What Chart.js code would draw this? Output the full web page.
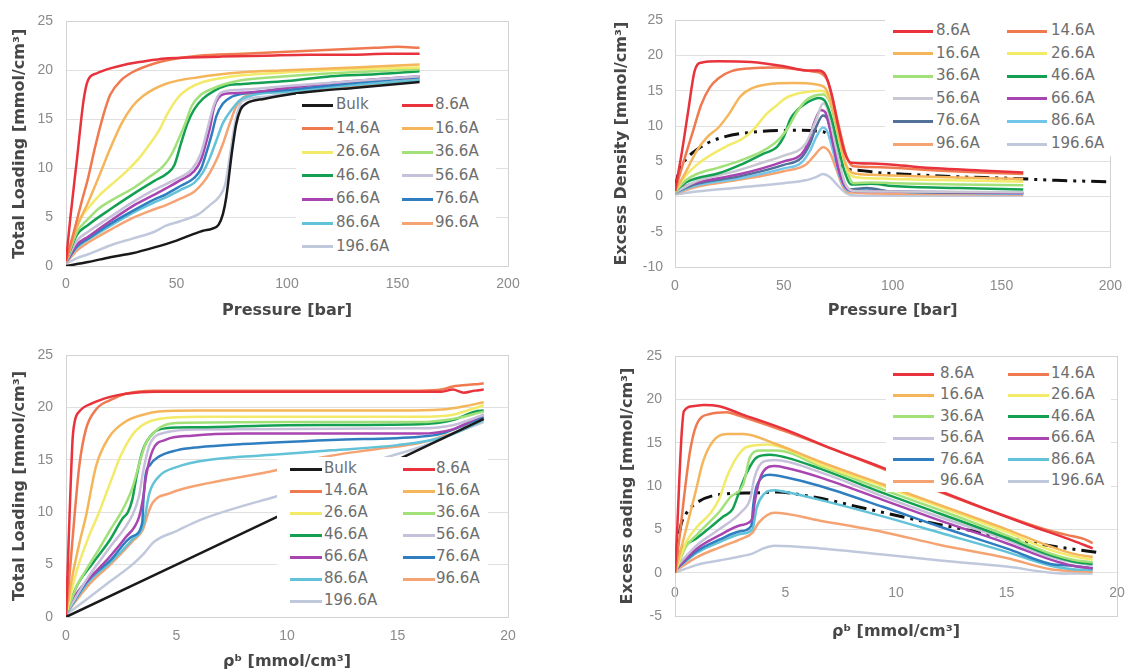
<!DOCTYPE html>
<html>
<head>
<meta charset="utf-8">
<script src="https://cdn.jsdelivr.net/npm/chart.js@4.4.1/dist/chart.umd.min.js"></script>
<style>
  body { margin: 0; background: #fff; width: 1133px; height: 672px; overflow: hidden; position: relative; }
  canvas { position: absolute; }
  .legbox { position: absolute; background: #fff; }
  .item { position: absolute; height: 20px; line-height: 20px; font: 15px "DejaVu Sans", sans-serif; color: #6e6e6e; white-space: nowrap; }
  .swatch { position: absolute; height: 3px; }
</style>
</head>
<body>
<canvas id="c1" width="530" height="330" style="left:0;top:0"></canvas>
<canvas id="c2" width="553" height="330" style="left:580px;top:0"></canvas>
<canvas id="c3" width="530" height="342" style="left:0;top:330px"></canvas>
<canvas id="c4" width="553" height="342" style="left:580px;top:330px"></canvas>
<script>
// series labels (Bulk only appears in the total loading panels)
const names = ["Bulk", "8.6A", "14.6A", "16.6A", "26.6A", "36.6A", "46.6A",
               "56.6A", "66.6A", "76.6A", "86.6A", "96.6A", "196.6A"];

// top left: total loading vs pressure [bar]
const loadP = [
  [[0,0],[10,0.4],[20,0.9],[30,1.3],[40,1.9],[50,2.6],[57,3.2],[62,3.6],[66,3.8],[69,4.2],[71,5.3],[72.5,7],[75,11.5],[77,14.5],[79,16],[81.5,16.6],[90,17.1],[100,17.5],[115,17.9],[130,18.2],[145,18.5],[160,18.8]],
  [[0,0.5],[2,5],[5,11],[8,17],[10,19],[14,19.7],[20,20.2],[27,20.6],[35,20.9],[45,21.2],[55,21.3],[70,21.4],[90,21.5],[110,21.6],[130,21.6],[145,21.7],[160,21.7]],
  [[0,0.5],[3,3],[7,6.5],[10,9],[13,12],[17,15.5],[20,17.5],[25,19],[30,19.8],[40,20.7],[50,21.2],[60,21.5],[80,21.7],[100,21.9],[120,22.1],[140,22.3],[150,22.4],[160,22.3]],
  [[0,0.5],[5,4],[10,6.5],[15,9.2],[20,12],[25,14.5],[30,16.3],[35,17.4],[45,18.6],[60,19.3],[80,19.8],[100,20],[130,20.3],[160,20.6]],
  [[0,0.5],[5,4.3],[10,5.9],[15,7.2],[22,8.6],[27,9.6],[33,11],[38,12.5],[42,13.8],[46,15.6],[51,17.3],[56,18.2],[62,18.8],[70,19.2],[80,19.5],[100,19.8],[130,20.1],[160,20.3]],
  [[0,0.5],[5,3.5],[10,4.8],[15,5.9],[22,6.9],[30,7.9],[37,9],[44,10.2],[48,11.5],[51,13],[54,14.6],[57,16.4],[61,17.5],[66,18.1],[72,18.6],[80,19],[100,19.4],[130,19.8],[160,20.1]],
  [[0,0.5],[5,3.2],[10,4.2],[20,5.8],[30,7.3],[40,8.7],[46,9.5],[49,10.3],[52,12.5],[55,14.6],[58,16],[62,17.1],[67,17.9],[72,18.4],[80,18.6],[100,18.9],[120,19.4],[140,19.6],[160,19.9]],
  [[0,0.4],[5,2.6],[10,3.5],[20,5],[30,6.5],[40,7.8],[50,8.9],[57,9.9],[61,11.5],[64,14],[67,16.5],[70,17.7],[78,18],[90,18.2],[100,18.4],[130,18.9],[160,19.4]],
  [[0,0.4],[5,2.2],[10,3],[20,4.6],[30,6.1],[40,7.3],[45,7.9],[52,8.8],[58,9.7],[61,10.8],[63,12.3],[65,14],[67,16.2],[69,17.2],[72,17.6],[80,17.7],[100,18.2],[130,18.9],[160,19.4]],
  [[0,0.4],[5,2],[10,2.8],[20,4.3],[30,5.6],[40,6.8],[45,7.3],[52,8.2],[58,9],[61,9.9],[63,11.2],[66,13.5],[68,15.3],[71,16.6],[75,17.3],[80,17.6],[100,18],[130,18.7],[160,19.3]],
  [[0,0.4],[5,1.9],[10,2.7],[20,4.1],[30,5.4],[40,6.5],[45,7],[52,7.8],[58,8.5],[62,9.6],[65,11],[68,12.8],[71,14.6],[75,16],[79,17],[85,17.5],[100,17.8],[130,18.5],[160,19]],
  [[0,0.3],[5,1.6],[10,2.4],[20,3.7],[30,4.9],[40,5.8],[45,6.2],[52,6.9],[58,7.6],[62,8.5],[65,9.5],[68,10.8],[71,12.5],[74,14.5],[77,16.3],[80,17.2],[85,17.6],[100,17.8],[130,18.4],[160,19.1]],
  [[0,0.2],[5,0.8],[10,1.2],[20,2.1],[30,2.8],[40,3.5],[45,4.1],[52,4.6],[60,5.3],[65,6.2],[69,7],[72,8.3],[74,11],[76,14],[78,16],[80,16.9],[90,17.3],[100,17.6],[130,18.3],[160,18.9]]
];

// top right: excess density vs pressure [bar] (no Bulk series)
const excessP = [
  null,
  [[0,0.8],[3,6],[6,12],[9,17.8],[12,19],[20,19.2],[35,19.1],[50,18.5],[60,17.9],[66,17.9],[69,17.3],[72,14.5],[75,10],[78,6.2],[81,4.8],[90,4.7],[100,4.5],[120,4],[140,3.7],[160,3.4]],
  [[0,0.8],[4,5],[8,9],[12,13],[16,15.5],[20,16.8],[26,17.8],[35,18.2],[46,18.3],[55,18.1],[62,17.8],[67,17.5],[70,16.5],[73,13],[76,9],[79,5.5],[82,4.3],[90,4.2],[100,4.1],[120,3.7],[140,3.4],[160,3.2]],
  [[0,0.8],[5,3.5],[10,6.5],[15,8.5],[20,9.8],[25,11.8],[30,14.2],[35,15.3],[42,15.9],[55,16.1],[65,15.9],[69,15.4],[72,13],[75,9],[78,5],[82,3.3],[90,3.1],[100,3],[130,2.7],[160,2.5]],
  [[0,0.8],[5,3],[10,4.5],[16,5.8],[24,7.2],[31,8.2],[36,9.5],[42,11.7],[47,13],[51,14],[56,14.6],[62,14.9],[67,15],[70,14.4],[73,12],[76,7.5],[79,4],[82,2.8],[90,2.6],[100,2.5],[130,2.3],[160,2.1]],
  [[0,0.7],[5,2.3],[10,3.2],[20,4.1],[30,5.1],[40,6.4],[48,8.2],[52,9.8],[56,12],[60,13.6],[64,14.3],[68,14.5],[71,13.5],[74,10],[77,6],[80,2.8],[82,1.9],[90,2],[100,1.9],[130,1.7],[160,1.6]],
  [[0,0.7],[5,2],[10,2.6],[20,3.3],[30,4.5],[40,6],[47,7.1],[50,8.5],[53,11],[57,12.5],[61,13.4],[66,14],[69,13.5],[72,11],[75,7],[78,3.5],[81,1.7],[90,1.8],[100,1.5],[130,1.2],[160,1]],
  [[0,0.6],[10,2.2],[20,3],[30,3.8],[40,4.8],[50,5.8],[60,7.5],[65,11],[68,13.2],[70,12.5],[74,7],[78,2],[82,0.8],[100,0.7],[160,0.6]],
  [[0,0.6],[5,1.5],[10,2],[20,2.6],[30,3.2],[40,4],[50,5],[58,6],[61,7.5],[64,10.5],[67,12.3],[69,12],[72,8.5],[75,4],[78,1.5],[82,0.8],[100,0.7],[130,0.6],[160,0.5]],
  [[0,0.6],[10,1.8],[30,2.9],[50,4.5],[58,5.5],[62,7.5],[65,10],[68,11.5],[70,11],[73,7],[76,3],[80,1],[88,1.2],[100,0.7],[160,0.5]],
  [[0,0.5],[10,1.6],[30,2.6],[50,4],[58,4.8],[62,6.5],[65,8.5],[68,9.8],[70,9.2],[73,6],[76,2.5],[80,0.8],[88,1.1],[100,0.7],[160,0.4]],
  [[0,0.4],[10,1.4],[30,2.4],[50,3.6],[60,4.5],[64,5.8],[68,7],[71,6.3],[74,4],[77,1.5],[80,0.6],[100,0.4],[160,0.3]],
  [[0,0.3],[10,0.7],[30,1.3],[50,1.9],[60,2.3],[65,2.8],[68,3.2],[71,2.8],[75,1.5],[79,0.4],[85,0.1],[100,0.1],[160,0.1]]
];
const bulkExcessP = [[0,1],[2,3.9],[5,5.3],[8,6.2],[15,7.6],[23,8.5],[38,9.2],[55,9.4],[68,9.2],[72,8],[75,5.5],[78,4],[85,3.7],[93,3.4],[110,3.1],[130,2.8],[153,2.6],[175,2.3],[200,2.1]];

// bottom left: total loading vs bulk density [mmol/cm3]
const loadRho = [
  [[0,0],[5,5],[10,10],[15,15],[18.9,18.9]],
  [[0,0],[0.1,6],[0.2,12],[0.3,17],[0.4,18.7],[0.6,19.6],[1.2,20.4],[2,21],[2.7,21.3],[4,21.5],[10,21.5],[17,21.5],[17.5,21.7],[18,21.4],[18.5,21.6],[18.9,21.7]],
  [[0,0.3],[0.2,5],[0.4,10],[0.6,14.4],[0.9,17.9],[1.36,19.8],[2,20.7],[2.7,21.3],[4,21.6],[10,21.6],[16,21.6],[17,21.7],[17.5,22],[18.5,22.2],[18.9,22.3]],
  [[0,0.3],[0.3,4],[0.6,7],[0.9,9.6],[1.36,14.4],[1.96,17.2],[2.7,18.65],[3.5,19.3],[4.2,19.6],[6,19.7],[15,19.7],[17,19.8],[18,20.1],[18.9,20.5]],
  [[0,0.3],[0.5,4.5],[1,7.5],[1.5,10],[2,12.8],[2.5,15.5],[3.17,17.8],[4.2,18.9],[6,19.1],[16,19.1],[17.5,19.3],[18.3,19.8],[18.9,20.2]],
  [[0,0.3],[0.5,3],[1,4.8],[1.5,6.5],[2,8.3],[2.5,10],[3,12.3],[3.3,14.5],[3.6,16.5],[4.2,18],[5,18.5],[10,18.6],[16,18.6],[17.5,18.9],[18.9,19.6]],
  [[0,0.3],[0.5,3],[1.2,5.1],[2,7.4],[2.56,9.4],[2.8,10],[3,11.2],[3.2,13.5],[3.47,15.9],[3.92,17.5],[4.5,18],[6,18.1],[10,18.3],[16,18.4],[17.5,18.8],[18.5,19.6],[18.9,19.7]],
  [[0,0.3],[1,3.8],[2,6.7],[3,9.7],[3.3,11.5],[3.5,14],[3.8,16.5],[4.5,17.6],[6,17.9],[16,18],[17.5,18.3],[18.9,19.3]],
  [[0,0.3],[0.5,2.3],[1.2,4],[2,5.8],[2.7,7.6],[3.3,9.5],[3.5,11.5],[3.62,13.4],[3.92,15.9],[4.5,16.9],[5.7,17.3],[8,17.5],[16,17.5],[17.5,17.9],[18.5,18.9],[18.9,19.3]],
  [[0,0.3],[1,3.5],[2,5.4],[3,7.7],[3.45,9],[3.5,11],[3.6,13.5],[3.8,14.5],[4.2,15.3],[5,15.9],[6,16.2],[8,16.5],[12,16.9],[16,17.2],[17,17.5],[18,18.3],[18.9,19.1]],
  [[0,0.3],[1,3.3],[2,5.2],[3,7.4],[3.5,8.8],[3.77,11.8],[4.2,13.4],[5,14.3],[6.5,15],[9.5,15.5],[12,15.9],[15,16.4],[17,17.1],[18,17.9],[18.9,18.8]],
  [[0,0.3],[1,3],[2,5],[3,7.2],[3.47,8.3],[3.7,9.8],[3.92,10.9],[4.68,11.8],[6.5,12.8],[9.5,14],[11.5,15.2],[14,16],[16,16.6],[17,17.2],[18,17.9],[18.9,18.9]],
  [[0,0.2],[1,1.8],[2,3.4],[3,5],[3.5,6],[4,7.2],[5,8.2],[6,9.2],[8,10.6],[9.5,11.5],[12,13.4],[14.3,15.1],[16,16.2],[17,17],[18,17.9],[18.9,18.6]]
];

// bottom right: excess loading vs bulk density [mmol/cm3]
const excessRho = [
  null,
  [[0,0],[0.1,5],[0.2,11],[0.3,16],[0.4,18.6],[0.8,19.2],[1.3,19.35],[2,19.2],[3,18.3],[5,16.5],[7,14.4],[9.3,12.2],[11.6,9.8],[14,7.4],[16,5.5],[18,3.7],[18.9,2.8]],
  [[0,0],[0.2,4],[0.4,8.5],[0.68,14],[0.98,17.1],[1.58,18.3],[2.34,18.5],[2.8,18.2],[5,16.3],[9.3,12.1],[12,9.3],[15,6.5],[17,4.8],[18,4.2],[18.5,3.9],[18.9,3.4]],
  [[0,0],[0.3,3],[0.6,6],[0.9,9],[1.28,12.9],[1.73,15.2],[2.34,16],[3.1,16],[4.5,14.9],[6.56,12.8],[9.4,10.2],[12,7.8],[15,5],[17,3],[18,2.2],[18.9,1.8]],
  [[0,0],[0.5,3.5],[1,5.3],[1.58,6.8],[2,8.5],[2.34,11],[2.79,13.3],[3.24,14.5],[4.2,14.8],[5,14.3],[6.56,12.5],[9.4,10],[12,7.6],[15,4.7],[17,2.6],[18,1.9],[18.9,1.5]],
  [[0,0],[0.5,3],[1,4.4],[1.58,5.9],[2,7],[2.5,8.7],[3.09,10.2],[3.39,13.3],[3.85,14.1],[4.6,14.1],[6.56,12.3],[9.4,9.6],[12,7.2],[15,4.3],[17,2.2],[18,1.5],[18.9,1.2]],
  [[0,1],[0.3,2.7],[1,4],[1.58,5.2],[2.2,6.5],[2.6,7.3],[2.79,8.5],[3,10],[3.24,11.5],[3.7,13.3],[4.3,13.6],[5,13.3],[6.56,12],[9.4,9.2],[12,6.8],[15,4],[17,2],[18,1.3],[18.9,1]],
  [[0,0.5],[1,3.2],[2,5],[3,7],[3.4,8.5],[3.6,11],[4,12.8],[4.5,13],[6.56,11.6],[9.4,8.8],[12,6.4],[15,3.8],[17,1.8],[18.9,0.8]],
  [[0,0.3],[1,2.8],[2,4.3],[3,5.5],[3.5,6.2],[3.6,8],[3.8,10.5],[4,11.7],[4.5,12.3],[5,12.1],[6.56,11],[9.4,8.4],[12,6],[15,3.4],[17,1.5],[18,0.8],[18.9,0.5]],
  [[0,0.3],[1,2.5],[2,3.8],[3,4.8],[3.45,5.4],[3.55,8],[3.7,10],[4.3,11.3],[5,11],[6.56,10],[9.4,7.6],[12,5.3],[15,2.8],[17,1],[18,0.8],[18.9,0.5]],
  [[0,0.3],[1,2.3],[2,3.5],[3,4.5],[3.5,5],[3.7,7.5],[4,9],[4.5,9.5],[5,9.3],[6.56,8.4],[9.4,6.5],[12,4.6],[15,2.4],[17,0.8],[18,0.4],[18.9,0.3]],
  [[0,0.2],[1,1.8],[2,2.9],[3,3.9],[3.5,4.6],[3.8,5.8],[4.5,6.9],[6.56,6],[9.4,4.7],[12,3.2],[15,1.7],[17,0.4],[18,0.2],[18.9,0.1]],
  [[0,0],[1,0.9],[2,1.4],[3,1.9],[3.5,2.2],[4,2.8],[4.5,3.1],[6.56,2.8],[9.4,2.1],[12,1.4],[15,0.7],[17,0],[18,-0.1],[18.9,-0.1]]
];
const bulkExcessRho = [[0,0],[0.1,2.5],[0.25,5.3],[0.5,6.8],[1,8.1],[2.3,9.1],[3.5,9.2],[4.6,9.3],[6.1,8.8],[8.8,7.3],[11.1,6],[13.5,4.8],[15.6,3.7],[17.5,2.9],[19.2,2.3]];

const colors = ["#1a1a1a", "#e8323c", "#f07a50", "#f5b55a", "#f2ea68", "#a2e07a", "#13a052",
                "#c6c0da", "#a845b0", "#2f7fc0", "#62c2d8", "#f5a373", "#c0c8dc"];
// the top right panel uses slightly different shades for a few series
const colors2 = colors.slice();
colors2[7] = "#c8c8d2"; colors2[9] = "#52709a"; colors2[10] = "#72c6ea";

const tickFont = { family: "Liberation Sans", size: 14 };
const titleFont = { family: "DejaVu Sans", size: 16, weight: "bold" };

const frame = {
  id: "frame",
  beforeDatasetsDraw(chart) {
    const { ctx, chartArea: a } = chart;
    ctx.save();
    ctx.strokeStyle = "#d2d2d2";
    ctx.lineWidth = 1;
    ctx.strokeRect(Math.round(a.left) + 0.5, Math.round(a.top) + 0.5, Math.round(a.width), Math.round(a.height));
    ctx.restore();
  }
};

function panel(id, o) {
  const datasets = [];
  o.series.forEach((pts, i) => {
    if (!pts) return;
    datasets.push({
      label: names[i],
      data: pts.map(p => ({ x: p[0], y: p[1] })),
      borderColor: o.colors[i],
      borderWidth: 2.5,
      pointRadius: 0,
      showLine: true,
      cubicInterpolationMode: "monotone"
    });
  });
  if (o.dash) {
    datasets.push({
      label: "bulk",
      data: o.dash.map(p => ({ x: p[0], y: p[1] })),
      borderColor: "#111",
      borderWidth: 3,
      borderDash: [15, 6, 3, 6, 3, 6],
      pointRadius: 0,
      showLine: true,
      cubicInterpolationMode: "monotone"
    });
  }
  new Chart(document.getElementById(id), {
    type: "scatter",
    data: { datasets },
    options: {
      responsive: false,
      animation: false,
      layout: { padding: o.pad },
      plugins: { legend: { display: false }, tooltip: { enabled: false } },
      scales: {
        x: {
          min: o.x[0], max: o.x[1],
          ticks: { stepSize: o.x[2], padding: o.xTickPad, font: tickFont, color: "#8a8a8a" },
          grid: { display: false, drawTicks: false },
          border: { display: false },
          title: { display: true, text: o.xTitle, font: titleFont, color: "#474747", padding: { top: 0, bottom: o.xTitlePad } },
          afterFit: s => { s.height = o.xH; },
          // labels may sit inside the plot (axis crossing at 0), so do not clip them to the axis box
          afterUpdate: s => { s._computeLabelArea = () => null; }
        },
        y: {
          min: o.y[0], max: o.y[1],
          ticks: { stepSize: 5, padding: o.yTickPad, font: tickFont, color: "#8a8a8a" },
          grid: { color: "#e0e0e0", drawTicks: false },
          border: { display: false },
          title: { display: true, text: o.yTitle, font: titleFont, color: "#474747", padding: { top: o.yTitlePad, bottom: 0 } },
          afterFit: s => { s.width = o.yW; }
        }
      }
    },
    plugins: [frame]
  });
}

function legend(o) {
  const box = document.createElement("div");
  box.className = "legbox";
  Object.assign(box.style, { left: o.box[0] + "px", top: o.box[1] + "px", width: o.box[2] + "px", height: o.box[3] + "px" });
  document.body.appendChild(box);
  o.entries.forEach((idx, k) => {
    const row = Math.floor(k / 2), col = k % 2;
    const cy = o.row0 + row * o.rowStep;
    const sw = document.createElement("div");
    sw.className = "swatch";
    Object.assign(sw.style, { left: o.lineX[col] + "px", top: (cy - 1.5) + "px", width: o.lineLen + "px", background: o.colors[idx] });
    document.body.appendChild(sw);
    const t = document.createElement("div");
    t.className = "item";
    t.textContent = names[idx];
    Object.assign(t.style, { left: o.textX[col] + "px", top: (cy - 10) + "px" });
    document.body.appendChild(t);
  });
}

const allEntries = [0, 1, 2, 3, 4, 5, 6, 7, 8, 9, 10, 11, 12];
const poreEntries = [1, 2, 3, 4, 5, 6, 7, 8, 9, 10, 11, 12];

panel("c1", {
  series: loadP, colors, x: [0, 200, 50], y: [0, 25],
  pad: { top: 14, right: 22, bottom: 0, left: 0 }, xH: 64, yW: 66,
  xTickPad: 10, yTickPad: 13, xTitlePad: 10, yTitlePad: 10,
  xTitle: "Pressure [bar]", yTitle: "Total Loading [mmol/cm³]"
});
panel("c2", {
  series: excessP, colors: colors2, dash: bulkExcessP, x: [0, 200, 50], y: [-10, 25],
  pad: { top: 14, right: 16, bottom: 0, left: 0 }, xH: 63, yW: 95,
  xTickPad: 11, yTickPad: 12, xTitlePad: 10, yTitlePad: 32,
  xTitle: "Pressure [bar]", yTitle: "Excess Density [mmol/cm³]"
});
panel("c3", {
  series: loadRho, colors, x: [0, 20, 5], y: [0, 25],
  pad: { top: 25, right: 22, bottom: 0, left: 0 }, xH: 55, yW: 66,
  xTickPad: 11, yTickPad: 13, xTitlePad: 1, yTitlePad: 10,
  xTitle: "ρᵇ [mmol/cm³]", yTitle: "Total Loading [mmol/cm³]"
});
panel("c4", {
  series: excessRho, colors, dash: bulkExcessRho, x: [0, 20, 5], y: [-5, 25],
  pad: { top: 26, right: 16, bottom: 0, left: 0 }, xH: 56, yW: 95,
  xTickPad: -31, yTickPad: 13, xTitlePad: 31, yTitlePad: 38,
  xTitle: "ρᵇ [mmol/cm³]", yTitle: "Excess oading [mmol/cm³]"
});

legend({ entries: allEntries, colors, box: [296, 94, 200, 164], row0: 105, rowStep: 23.6, lineX: [302, 402], lineLen: 31, textX: [336, 435] });
legend({ entries: poreEntries, colors: colors2, box: [885, 18, 228, 138], row0: 31, rowStep: 22.6, lineX: [893, 1007], lineLen: 40, textX: [936, 1051] });
legend({ entries: allEntries, colors, box: [277, 457, 211, 155], row0: 469, rowStep: 22, lineX: [290, 403], lineLen: 32, textX: [324, 436] });
legend({ entries: poreEntries, colors, box: [886, 362, 225, 130], row0: 374, rowStep: 21.4, lineX: [893, 1008], lineLen: 41, textX: [940, 1051] });
</script>
</body>
</html>
